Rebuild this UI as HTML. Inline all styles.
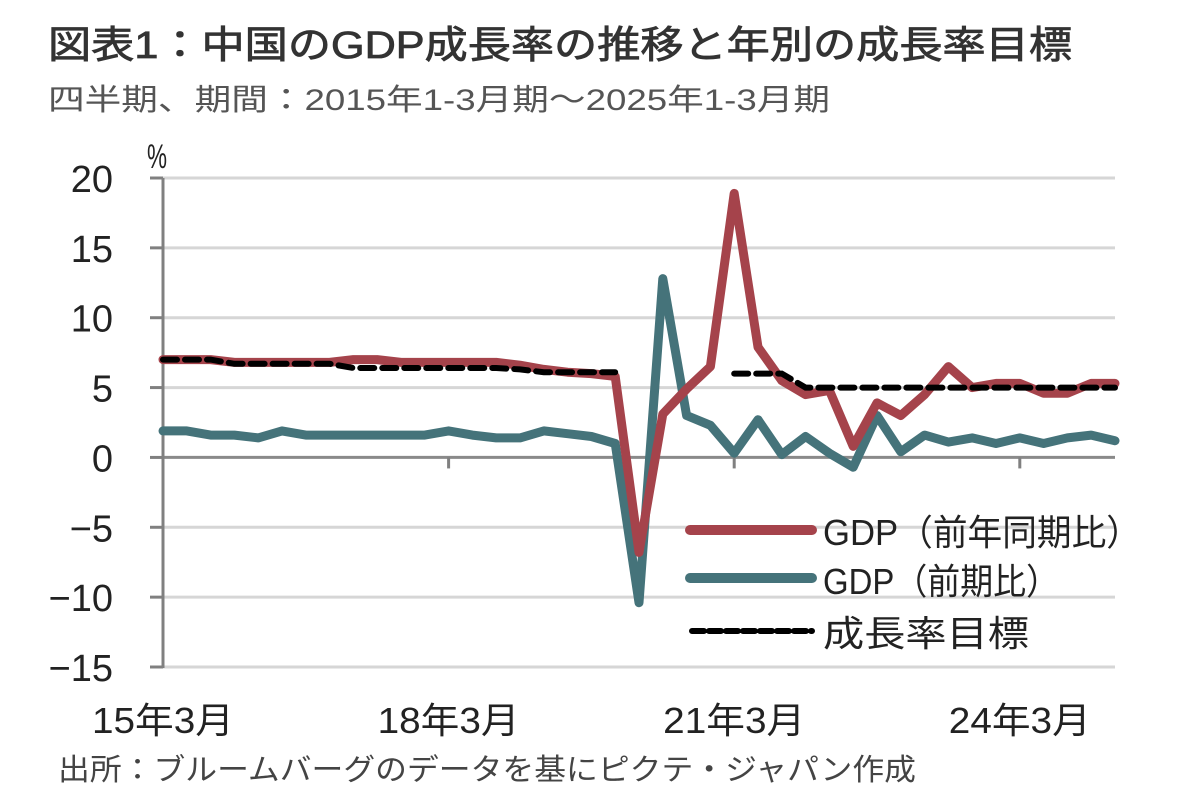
<!DOCTYPE html>
<html><head><meta charset="utf-8"><style>
body{margin:0;background:#fff}
svg{display:block}
text{font-family:"Liberation Sans","Noto Sans CJK JP",sans-serif}
</style></head><body>
<svg id="chart" width="1182" height="800" viewBox="0 0 1182 800">
<text x="48" y="58" font-size="38" fill="#333" stroke="#333" stroke-width="0.8" textLength="1024" lengthAdjust="spacingAndGlyphs">図表1：中国のGDP成長率の推移と年別の成長率目標</text>
<text x="48" y="110" font-size="30" fill="#555" textLength="782" lengthAdjust="spacingAndGlyphs">四半期、期間：2015年1-3月期～2025年1-3月期</text>
<text x="147" y="168" font-size="34" fill="#222" textLength="20" lengthAdjust="spacingAndGlyphs">%</text>
<g id="grid"></g><g id="yticks"></g><g id="xticks"></g><g id="series"></g>
<g>
<line x1="690" y1="530" x2="812" y2="530" stroke="#a5434b" stroke-width="10" stroke-linecap="round"/>
<text x="823" y="545" font-size="36" fill="#222" textLength="318" lengthAdjust="spacingAndGlyphs">GDP（前年同期比）</text>
<line x1="690" y1="578" x2="812" y2="578" stroke="#45737a" stroke-width="10" stroke-linecap="round"/>
<text x="823" y="594" font-size="36" fill="#222" textLength="236" lengthAdjust="spacingAndGlyphs">GDP（前期比）</text>
<line x1="692" y1="631" x2="812" y2="631" stroke="#000" stroke-width="6" stroke-dasharray="12,5" stroke-linecap="round"/>
<text x="823" y="646" font-size="36" fill="#222" textLength="206" lengthAdjust="spacingAndGlyphs">成長率目標</text>
</g>
<text x="58" y="780" font-size="30" fill="#444" textLength="858" lengthAdjust="spacingAndGlyphs">出所：ブルームバーグのデータを基にピクテ・ジャパン作成</text>
</svg>
<script>
const yTicks=[20,15,10,5,0,-5,-10,-15];
const xLabels=["15年3月","18年3月","21年3月","24年3月"];
const xLabelIdx=[0,12,24,36];
const yoy=[7.0,7.0,7.0,6.8,6.8,6.8,6.8,6.8,7.0,7.0,6.8,6.8,6.8,6.8,6.8,6.6,6.3,6.1,6.0,5.8,-6.8,3.1,4.9,6.5,18.9,7.9,5.5,4.5,4.8,0.8,3.9,3.0,4.5,6.5,5.0,5.3,5.3,4.6,4.6,5.3,5.3];
const qoq=[1.9,1.9,1.6,1.6,1.4,1.9,1.6,1.6,1.6,1.6,1.6,1.6,1.9,1.6,1.4,1.4,1.9,1.7,1.5,1.0,-10.4,12.8,3.0,2.3,0.3,2.7,0.2,1.5,0.3,-0.7,3.0,0.4,1.6,1.1,1.4,1.0,1.4,1.0,1.4,1.6,1.2];
const target=[7.0,7.0,7.0,6.7,6.7,6.7,6.7,6.7,6.4,6.4,6.4,6.4,6.4,6.4,6.4,6.3,6.1,6.1,6.1,6.1,null,null,null,null,6.0,6.0,6.0,5.0,5.0,5.0,5.0,5.0,5.0,5.0,5.0,5.0,5.0,5.0,5.0,5.0,5.0];
const NS="http://www.w3.org/2000/svg";
const X0=163,X1=1115,Y20=178,YM15=667,N=40;
const xs=i=>X0+(X1-X0)*i/N;
const ys=v=>Y20+(20-v)*(YM15-Y20)/35;
function mk(tag,attrs,parent){const e=document.createElementNS(NS,tag);for(const k in attrs)e.setAttribute(k,attrs[k]);document.getElementById(parent).appendChild(e);return e;}
yTicks.forEach(v=>{
  const g=mk('line',{x1:X0,x2:X1,y1:ys(v),y2:ys(v),stroke:v===0?'#8a8a8a':'#d6d6d6','stroke-width':3},'grid');
  
  
  const t=mk('line',{x1:150,x2:X0,y1:ys(v),y2:ys(v),stroke:'#808080','stroke-width':3},'grid');
  
  
  const lb=mk('text',{x:113,y:ys(v)+14,'font-size':38,'text-anchor':'end',fill:'#222'},'yticks');
  lb.textContent=(v<0?'−':'')+Math.abs(v);
  
  
});
const ax=mk('line',{x1:X0,x2:X0,y1:Y20,y2:YM15+1,stroke:'#808080','stroke-width':3},'grid');


xLabels.forEach((s,k)=>{
  const x=xs(xLabelIdx[k]);
  if(k>0){const tm=mk('line',{x1:x,x2:x,y1:ys(0),y2:ys(0)+11,stroke:'#808080','stroke-width':3},'xticks');
  
  }
  const t=mk('text',{x:x,y:733,'font-size':36,'text-anchor':'middle',fill:'#222',textLength:142,lengthAdjust:'spacingAndGlyphs'},'xticks');
  t.textContent=s;
  
  
});
function path(arr){let d='',pen=false;arr.forEach((v,i)=>{if(v===null){pen=false;return;}d+=(pen?'L':'M')+xs(i).toFixed(1)+' '+ys(v).toFixed(1)+' ';pen=true;});return d;}
const pt=mk('path',{d:path(target),fill:'none',stroke:'#000','stroke-width':6,'stroke-dasharray':'14,8','stroke-linecap':'round'},'series');


const pq=mk('path',{d:path(qoq),fill:'none',stroke:'#45737a','stroke-width':9,'stroke-linejoin':'round','stroke-linecap':'round'},'series');


const py=mk('path',{d:path(yoy),fill:'none',stroke:'#a5434b','stroke-width':9,'stroke-linejoin':'round','stroke-linecap':'round'},'series');


document.getElementById('series').appendChild(pt);
</script>
</body></html>
